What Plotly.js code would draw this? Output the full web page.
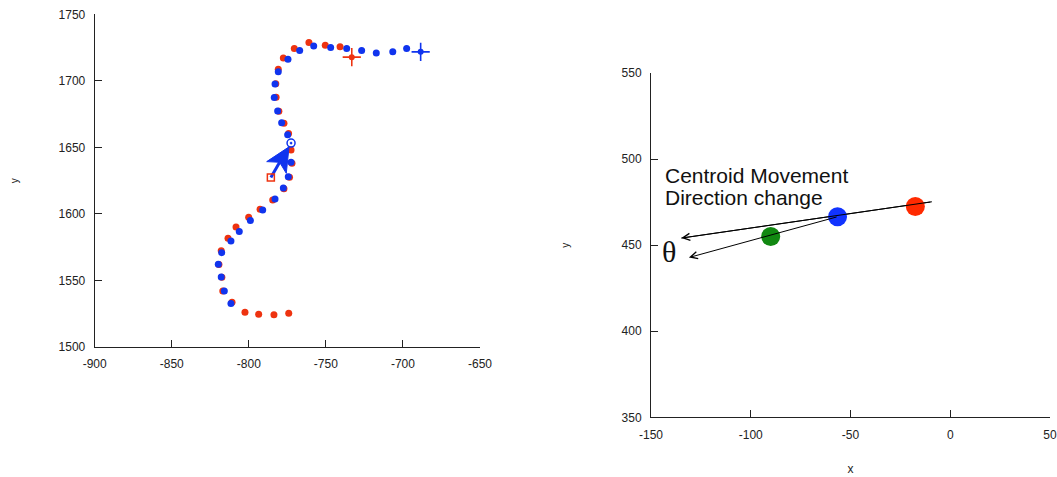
<!DOCTYPE html>
<html>
<head>
<meta charset="utf-8">
<script src="https://cdn.plot.ly/plotly-3.0.1.min.js"></script>
<style>html,body{margin:0;padding:0;background:#fff}#chart{width:1057px;height:477px}</style>
</head>
<body>
<div id="chart"></div>
<script>
// ---- Left panel: trajectories ----
var redX = [-774.1,-783.7,-793.6,-802.5,-810.9,-816.9,-817.5,-819.4,-817.9,-813.5,-808.3,-800.1,-792.7,-784.5,-777.2,-773.6,-772.0,-772.6,-774.2,-777.2,-780.5,-782.3,-782.5,-780.9,-777.6,-770.5,-761.0,-750.4,-740.8];
var redY = [1525.3,1524.3,1524.6,1526.1,1533.6,1542.1,1552.4,1562.0,1572.4,1581.7,1590.2,1597.5,1603.5,1610.5,1619.0,1627.6,1638.1,1648.1,1660.4,1668.2,1677.1,1687.6,1697.9,1708.8,1717.1,1724.3,1728.8,1726.8,1725.6];
var blueX = [-811.6,-815.9,-817.9,-819.8,-817.6,-811.6,-806.2,-799.0,-791.0,-783.0,-777.6,-774.4,-772.6,-774.8,-778.7,-781.3,-783.5,-783.0,-780.9,-774.6,-767.0,-757.9,-746.9,-736.5,-726.8,-717.3,-706.6,-697.6];
var blueY = [1532.6,1542.1,1552.6,1562.2,1570.9,1579.7,1586.7,1595.0,1603.0,1611.3,1619.5,1628.0,1638.9,1659.4,1668.6,1677.4,1687.4,1697.7,1706.8,1716.3,1722.8,1726.1,1725.0,1724.3,1722.8,1721.0,1721.8,1724.3];
var redEndX = [-733.2], redEndY = [1717.8];
var blueEndX = [-688.5], blueEndY = [1721.8];
var redStartX = [-785.7], redStartY = [1627.4];
var blueStartX = [-772.6], blueStartY = [1653.2];
// quiver arrow (head polygon + shaft)
var arrowHeadX = [-773.9,-788.4,-780.0,-775.7,-773.9];
var arrowHeadY = [1650.4,1639.3,1638.8,1630.5,1650.4];
var arrowShaftX = [-785.7,-780.0];
var arrowShaftY = [1627.4,1638.8];
var leftXTicks = [-900,-850,-800,-750,-700,-650];
var leftXTickText = ['-900','-850','-800','-750','-700','-650'];
var leftYTicks = [1500,1550,1600,1650,1700,1750];

// ---- Right panel: centroid direction change ----
var centroidX = [-17.5,-56.5,-90];
var centroidY = [472.5,466.5,455];
var centroidColors = ['#ff2a00','#1133ff','#118811'];
var arrow1 = {fromX:-9.2, fromY:475.2, toX:-134.8, toY:454.1};
var arrow2 = {fromX:-56.2, fromY:466.6, toX:-131.0, toY:442.8};
var noteLines = ['Centroid Movement','Direction change'];
var noteX = -144.2, noteY = [490.6, 477.8];
var thetaText = 'θ', thetaX = -141, thetaY = 446.5;
var rightXTicks = [-150,-100,-50,0,50];
var rightXTickText = ['-150','-100','-50','0','50'];
var rightYTicks = [350,400,450,500,550];

var RED = '#ee3310', BLUE = '#1034ee';

var traces = [
  {x: redX, y: redY, mode:'markers', type:'scatter', marker:{color:RED, size:7}, xaxis:'x', yaxis:'y'},
  {x: blueX, y: blueY, mode:'markers', type:'scatter', marker:{color:BLUE, size:7}, xaxis:'x', yaxis:'y'},
  {x: arrowShaftX, y: arrowShaftY, mode:'lines', type:'scatter', line:{color:BLUE, width:3}, xaxis:'x', yaxis:'y'},
  {x: arrowHeadX, y: arrowHeadY, mode:'lines', type:'scatter', fill:'toself', fillcolor:BLUE, line:{color:BLUE, width:1}, xaxis:'x', yaxis:'y'},
  {x: redStartX, y: redStartY, mode:'markers', type:'scatter', marker:{color:RED, size:7, symbol:'square-open', line:{width:1.5, color:RED}}, xaxis:'x', yaxis:'y'},
  {x: blueStartX, y: blueStartY, mode:'markers', type:'scatter', marker:{color:BLUE, size:8, symbol:'circle-open-dot', line:{width:1.5, color:BLUE}}, xaxis:'x', yaxis:'y'},
  {x: redEndX, y: redEndY, mode:'markers', type:'scatter', marker:{color:RED, size:13, symbol:'cross-thin', line:{width:1.6, color:RED}}, xaxis:'x', yaxis:'y'},
  {x: redEndX, y: redEndY, mode:'markers', type:'scatter', marker:{color:RED, size:6}, xaxis:'x', yaxis:'y'},
  {x: blueEndX, y: blueEndY, mode:'markers', type:'scatter', marker:{color:BLUE, size:13, symbol:'cross-thin', line:{width:1.6, color:BLUE}}, xaxis:'x', yaxis:'y'},
  {x: blueEndX, y: blueEndY, mode:'markers', type:'scatter', marker:{color:BLUE, size:6}, xaxis:'x', yaxis:'y'},
  {x: [arrow1.fromX, arrow1.toX], y:[arrow1.fromY, arrow1.toY], mode:'lines', type:'scatter', line:{color:'#000', width:1}, xaxis:'x2', yaxis:'y2'},
  {x: centroidX, y: centroidY, mode:'markers', type:'scatter', marker:{color:centroidColors, size:19}, xaxis:'x2', yaxis:'y2'}
];

var FONT = 'Arial, "Liberation Sans", Helvetica, sans-serif';
function axisBase(extra){
  var a = {showline:true, linecolor:'#222', linewidth:1, ticks:'inside', ticklen:7, tickcolor:'#222', tickwidth:1,
    showgrid:false, zeroline:false, automargin:false, tickfont:{family:FONT, size:12, color:'#222'}, ticklabelstandoff:6};
  for (var k in extra) a[k] = extra[k];
  return a;
}

var layout = {
  width:1057, height:477, margin:{l:0,r:0,t:0,b:0}, paper_bgcolor:'#fff', plot_bgcolor:'#fff',
  showlegend:false, hovermode:false,
  xaxis: axisBase({domain:[94.7/1057, 480/1057], range:[-900,-650], tickmode:'array', tickvals:leftXTicks, ticktext:leftXTickText, anchor:'y'}),
  yaxis: axisBase({domain:[(477-347)/477, (477-14.3)/477], range:[1500,1750], tickmode:'array', tickvals:leftYTicks, anchor:'x',
    title:{text:'y', font:{family:FONT, size:10, color:'#222'}, standoff:38}}),
  xaxis2: axisBase({domain:[651/1057, 1050/1057], range:[-150,50], tickmode:'array', tickvals:rightXTicks, ticktext:rightXTickText, anchor:'y2',
    title:{text:'x', font:{family:FONT, size:12, color:'#222'}, standoff:23}}),
  yaxis2: axisBase({domain:[(477-417.3)/477, (477-73)/477], range:[350,550], tickmode:'array', tickvals:rightYTicks, anchor:'x2',
    title:{text:'y', font:{family:FONT, size:10, color:'#222'}, standoff:50}}),
  annotations: [
    {xref:'x2', yref:'y2', x:arrow1.toX, y:arrow1.toY, ax:arrow1.fromX, ay:arrow1.fromY, axref:'x2', ayref:'y2',
     showarrow:true, text:'', arrowhead:5, arrowsize:1.4, arrowwidth:1, arrowcolor:'#000', standoff:0, startstandoff:0},
    {xref:'x2', yref:'y2', x:arrow2.toX, y:arrow2.toY, ax:arrow2.fromX, ay:arrow2.fromY, axref:'x2', ayref:'y2',
     showarrow:true, text:'', arrowhead:5, arrowsize:1.4, arrowwidth:1, arrowcolor:'#000', standoff:0, startstandoff:0},
    {xref:'x2', yref:'y2', x:noteX, y:noteY[0], text:noteLines[0], showarrow:false, xanchor:'left', yanchor:'middle', align:'left',
     font:{family:FONT, size:21, color:'#111'}},
    {xref:'x2', yref:'y2', x:noteX, y:noteY[1], text:noteLines[1], showarrow:false, xanchor:'left', yanchor:'middle', align:'left',
     font:{family:FONT, size:21, color:'#111'}},
    {xref:'x2', yref:'y2', x:thetaX, y:thetaY, text:thetaText, showarrow:false, xanchor:'center', yanchor:'middle',
     font:{family:'"Liberation Serif", "Times New Roman", serif', size:30, color:'#111'}}
  ]
};

Plotly.newPlot('chart', traces, layout, {staticPlot:true, displayModeBar:false});
</script>
</body>
</html>
